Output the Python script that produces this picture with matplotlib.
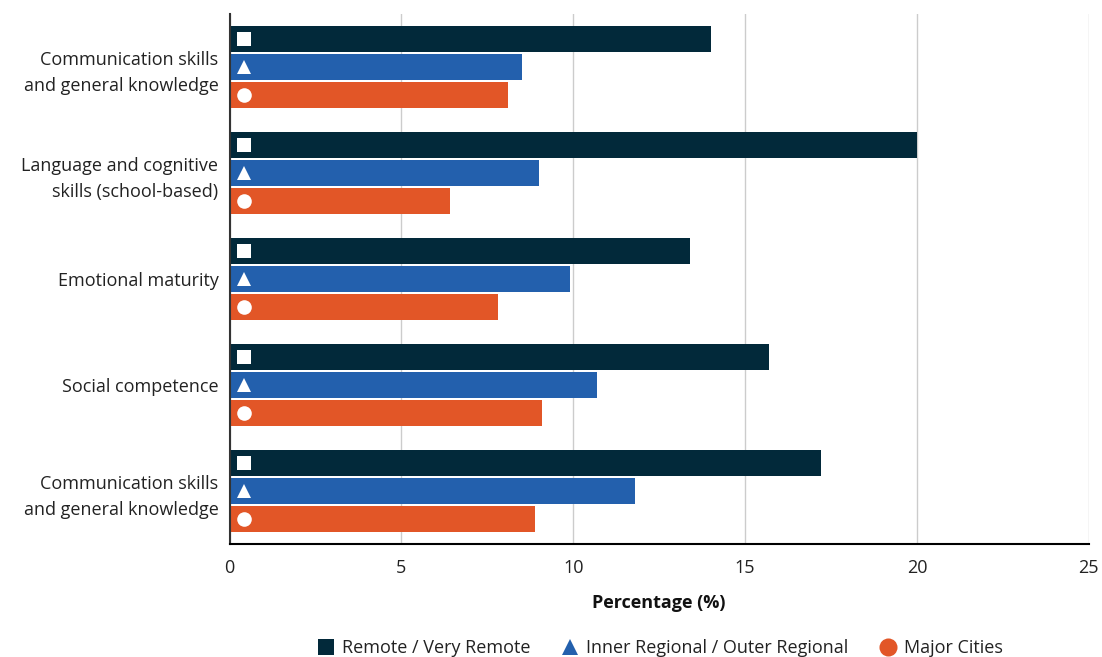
import matplotlib
matplotlib.use("Agg")
import matplotlib.pyplot as plt
from matplotlib.lines import Line2D
from matplotlib import transforms
import numpy as np

plt.rcParams['font.family'] = ['Open Sans', 'DejaVu Sans']

categories = [
    "Communication skills\nand general knowledge",
    "Language and cognitive\nskills (school-based)",
    "Emotional maturity",
    "Social competence",
    "Communication skills\nand general knowledge",
]
series_names = ["Remote / Very Remote", "Inner Regional / Outer Regional", "Major Cities"]
remote = [14.0, 20.0, 13.4, 15.7, 17.2]
regional = [8.5, 9.0, 9.9, 10.7, 11.8]
major = [8.1, 6.4, 7.8, 9.1, 8.9]
x_ticks = [0, 5, 10, 15, 20, 25]

colors = ["#02293a", "#2360ad", "#e25627"]
markers = ["s", "^", "o"]

fig = plt.figure(figsize=(11.02, 6.57), dpi=100)
ax = fig.add_axes([0.2083, 0.172, 0.7797, 0.8067])

y = np.arange(len(categories))
step = 0.264
height = 0.245
values = [remote, regional, major]
for i, (vals, c, m) in enumerate(zip(values, colors, markers)):
    pos = y + (i - 1) * step
    ax.barh(pos, vals, height=height, color=c, zorder=2)
    trans = transforms.blended_transform_factory(ax.transAxes, ax.transData)
    trans = transforms.offset_copy(trans, fig=fig, x=14, y=0, units='dots')
    ax.plot(np.zeros_like(pos), pos, linestyle='none', marker=m, color='white',
            markersize=10 if m != 'o' else 10.5, markeredgewidth=0, transform=trans, zorder=3)

fs = 13
ax.set_ylim(len(categories) - 0.5, -0.5)
ax.set_xlim(0, 25)
ax.set_xticks(x_ticks)
ax.set_yticks(y)
ax.set_yticklabels(categories, fontsize=fs, color="#222222", linespacing=1.6)
ax.tick_params(axis='x', labelsize=fs, colors="#222222", length=0, pad=11)
ax.tick_params(axis='y', length=0, pad=8)
ax.grid(axis='x', color='#cccccc', linewidth=1, zorder=0)
ax.set_axisbelow(True)
for s in ['top', 'right']:
    ax.spines[s].set_visible(False)
ax.spines['left'].set_color('#333333')
ax.spines['left'].set_linewidth(1.5)
ax.spines['bottom'].set_color('#000000')
ax.spines['bottom'].set_linewidth(1.5)
ax.set_xlabel("Percentage (%)", fontsize=fs, fontweight='bold', color="#111111", labelpad=12)

handles = [Line2D([], [], linestyle='none', marker=m, color=c, markersize=12 if m != 'o' else 13,
                  markeredgewidth=0) for m, c in zip(markers, colors)]
fig.legend(handles, series_names, loc='lower center', bbox_to_anchor=(0.598, -0.025), ncol=3,
           frameon=False, fontsize=fs, handletextpad=0.3, columnspacing=1.6, handlelength=1.2,
           labelcolor="#222222")

fig.savefig("out.png", dpi=100)
